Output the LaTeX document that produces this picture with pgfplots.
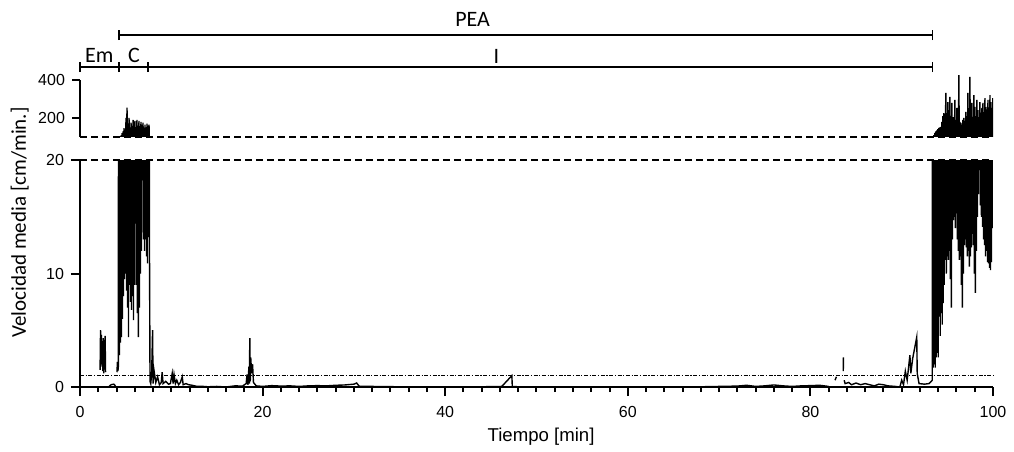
\documentclass[border=0pt]{standalone}
\usepackage{fontspec}
\setmainfont{Liberation Sans}
\newfontfamily\calibri{Carlito}
\usepackage{pgfplots}
\pgfplotsset{compat=1.18}
\usepackage{pgfplotstable}

% velocity trace, minutes vs cm/min (high values appear in upper panel)
\pgfplotstableread{
t v
2.20 1.5
2.25 5.0
2.30 1.8
2.35 4.6
2.40 2.0
2.45 3.8
2.50 1.4
2.55 4.3
2.60 1.2
2.65 3.5
2.70 1.6
2.75 4.5
2.80 1.3
nan nan
3.20 0.05
3.40 0.20
3.70 0.25
3.90 0.10
nan nan
4.05 1.3
4.10 2.2
4.15 1.4
4.20 1.8
4.27 103
4.32 2.8
4.38 104
4.43 3.9
4.49 108
4.54 4.4
4.60 120
4.65 6.0
4.71 130
4.76 8.0
4.82 147
4.87 9.5
4.93 140
4.98 10.0
5.04 200
5.09 8.5
5.15 255
5.20 7.0
5.26 160
5.31 4.4
5.37 200
5.42 9.0
5.48 150
5.53 7.5
5.59 175
5.64 6.8
5.70 140
5.75 8.0
5.81 190
5.86 5.9
5.91 150
5.96 9.0
6.02 185
6.07 14.4
6.13 140
6.18 9.0
6.24 190
6.29 6.5
6.35 160
6.40 4.4
6.46 185
6.51 7.0
6.57 150
6.62 10.0
6.68 180
6.73 12.0
6.79 165
6.84 18.2
6.90 175
6.95 13.0
7.01 140
7.06 12.0
7.12 165
7.17 13.0
7.23 150
7.28 11.5
7.34 170
7.39 10.9
7.45 160
7.50 13.2
7.56 165
7.61 12.5
7.67 0.5
7.75 0.3
7.85 1.2
7.95 5.0
8.00 0.3
8.10 1.5
8.30 0.4
8.50 0.9
8.70 0.2
8.90 0.4
9.00 1.3
9.10 0.3
9.40 0.5
9.70 0.25
9.90 0.3
10.10 1.2
10.20 0.3
10.30 1.1
10.45 0.3
10.60 0.6
10.80 0.2
11.00 0.4
11.20 0.9
11.30 0.2
11.60 0.3
11.90 0.2
12.30 0.15
12.80 0.05
13.50 0.05
14.00 0.02
15.00 0.05
16.00 0.0
17.00 0.1
17.80 0.08
18.20 0.3
18.30 1.1
18.40 0.2
18.50 1.8
18.55 0.3
18.60 4.3
18.65 0.5
18.70 2.6
18.80 1.2
18.90 2.0
19.00 0.4
19.30 0.1
20.00 0.05
21.00 0.12
22.00 0.08
23.00 0.1
24.00 0.05
25.00 0.1
26.00 0.12
27.00 0.1
28.00 0.15
29.00 0.18
30.00 0.25
30.30 0.35
30.60 0.05
32.00 0.05
35.00 0.02
40.00 0.0
44.00 0.02
46.20 0.05
47.30 1.0
47.35 0.05
48.00 0.02
55.00 0.0
62.00 0.0
68.00 0.02
70.00 0.05
72.00 0.08
73.00 0.15
74.00 0.05
75.00 0.1
76.00 0.18
77.00 0.1
78.00 0.05
79.00 0.1
80.00 0.12
81.00 0.15
82.00 0.05
nan nan
82.70 0.6
82.85 0.9
nan nan
83.60 1.4
83.62 2.6
nan nan
83.70 0.6
83.80 0.3
84.20 0.4
84.50 0.2
85.00 0.35
85.50 0.2
86.00 0.3
86.50 0.2
87.00 0.1
87.50 0.25
88.00 0.2
88.50 0.1
89.30 0.05
89.80 0.0
90.00 0.6
90.20 0.2
90.40 1.4
90.60 0.6
90.90 2.8
91.00 1.2
91.20 2.5
91.65 4.4
91.70 1.2
91.90 0.3
92.50 0.25
93.00 0.3
93.35 0.6
93.40 104
93.455 1.7
93.51 110
93.565 2.0
93.62 121
93.675 1.7
93.73 130
93.785 2.6
93.84 135
93.895 3.0
93.95 142
94.005 2.6
94.06 148
94.115 6.2
94.17 150
94.225 4.5
94.28 153
94.335 6.5
94.39 180
94.445 5.5
94.50 210
94.555 7.4
94.61 226
94.665 9.0
94.72 175
94.775 11.2
94.83 332
94.885 10.0
94.94 190
94.995 11.5
95.05 284
95.105 11.2
95.16 200
95.215 12.0
95.27 311
95.325 9.5
95.38 180
95.435 7.0
95.49 279
95.545 13.0
95.60 205
95.655 14.7
95.71 180
95.765 15.0
95.82 295
95.875 14.0
95.93 190
95.985 15.3
96.04 253
96.095 13.0
96.15 170
96.205 12.0
96.26 426
96.315 11.2
96.37 180
96.425 11.5
96.48 174
96.535 9.0
96.59 165
96.645 7.0
96.70 190
96.755 10.0
96.81 200
96.865 12.5
96.92 185
96.975 13.0
97.03 232
97.085 12.3
97.14 210
97.195 11.5
97.25 332
97.305 12.0
97.36 200
97.415 10.6
97.47 416
97.525 11.5
97.58 220
97.635 12.3
97.69 279
97.745 13.5
97.80 200
97.855 12.5
97.91 321
97.965 10.0
98.02 258
98.075 8.3
98.13 210
98.185 12.0
98.24 295
98.295 15.0
98.35 242
98.405 17.0
98.46 205
98.515 19.1
98.57 284
98.625 16.0
98.68 220
98.735 15.0
98.79 253
98.845 14.1
98.90 279
98.955 13.0
99.01 215
99.065 12.5
99.12 305
99.175 11.5
99.23 230
99.285 12.0
99.34 258
99.395 11.0
99.45 295
99.505 10.9
99.56 240
99.615 10.5
99.67 321
99.725 10.3
99.78 284
99.835 11.0
99.89 240
99.945 14.0
99.98 305
100.0 18.5
}\speed

\pgfplotsset{
  panel/.style={
    scale only axis, width=456.5pt, anchor=south west,
    xmin=0, xmax=100, clip mode=individual, unbounded coords=jump,
    every tick label/.append style={font=\fontsize{8}{9.6}\selectfont},
    /pgf/number format/assume math mode=true,
  },
  trace/.style={black,line width=0.7pt},
}
\tikzset{lab/.style={font=\calibri\fontsize{11}{13}\selectfont}}

\begin{document}
\begin{tikzpicture}
\path[use as bounding box] (0,0) rectangle (507pt,225.5pt);

% lower panel, 0-20
\begin{axis}[panel, at={(40pt,32pt)}, height=113.5pt,
  ymin=0, ymax=20,
  axis x line=bottom, axis y line=left,
  axis line style={line width=1pt,-},
  xtick={0,20,...,100}, ytick={0,10,20},
  minor x tick num=9,
  xtick align=outside, ytick align=outside,
  xtick style={draw=black,line width=1pt},
  ytick style={draw=black,line width=1pt},
  xticklabel style={yshift=-1.5pt},
  major tick length=4.5pt, minor tick length=2.5pt]
\addplot[trace] table[x=t,y=v] {\speed};
\draw[line width=1.1pt, dash pattern=on 3.5pt off 2pt] (axis cs:0,20) -- (axis cs:100,20);
\draw[line width=0.5pt, dash pattern=on 2pt off 0.8pt on 0.6pt off 0.8pt] (axis cs:0,1) -- (axis cs:100,1);
\node[rotate=90, font=\calibri\fontsize{10.5}{12}\selectfont] at (axis cs:-6.6,14.5) {Velocidad media [cm/min.]};
\node[font=\fontsize{9.3}{11}\selectfont] at (axis cs:50.5,-4.4) {Tiempo [min]};
\end{axis}

% upper panel, 100-400
\begin{axis}[panel, at={(40pt,157pt)}, height=32.3pt,
  ymin=100, ymax=440,
  axis x line=none, axis y line=left, y axis line style={draw=none},
  ytick={200,400}, ytick align=outside,
  ytick style={draw=black,line width=1pt}, major tick length=4pt]
\addplot[trace] table[x=t,y=v] {\speed};
\draw[line width=1pt] (axis cs:0,100) -- (axis cs:0,400);
\draw[line width=1.1pt, dash pattern=on 3.5pt off 2pt] (axis cs:0,100) -- (axis cs:100,100);
% phase brackets
\draw[line width=0.7pt] (axis cs:4.27,637) -- (axis cs:93.4,637);
\draw[line width=0.7pt] (axis cs:4.27,610) -- (axis cs:4.27,664);
\draw[line width=0.7pt] (axis cs:93.4,610) -- (axis cs:93.4,664);
\node[lab] at (axis cs:43.0,721) {PEA};
\draw[line width=0.7pt] (axis cs:0,468) -- (axis cs:93.4,468);
\draw[line width=0.7pt] (axis cs:0,441) -- (axis cs:0,495);
\draw[line width=0.7pt] (axis cs:4.27,441) -- (axis cs:4.27,495);
\draw[line width=0.7pt] (axis cs:7.45,441) -- (axis cs:7.45,495);
\draw[line width=0.7pt] (axis cs:93.4,441) -- (axis cs:93.4,495);
\node[lab] at (axis cs:2.1,530) {Em};
\node[lab] at (axis cs:5.9,530) {C};
\node[lab] at (axis cs:45.6,524) {I};
\end{axis}
\end{tikzpicture}
\end{document}
